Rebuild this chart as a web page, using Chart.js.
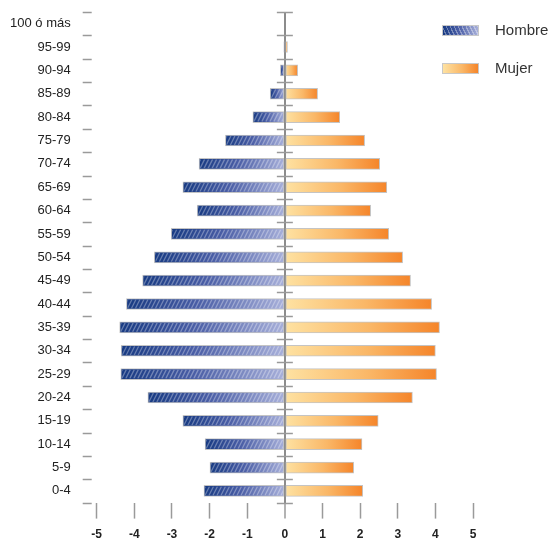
<!DOCTYPE html>
<html>
<head>
<meta charset="utf-8">
<script src="https://cdn.jsdelivr.net/npm/chart.js@4"></script>
<style>
  body { margin: 0; background: #fff; }
  #wrap { position: relative; width: 548px; height: 542px; }
  #legend { position: absolute; left: 442px; top: 20px; font: 15px 'Liberation Sans', Arial, sans-serif; color: #333; }
  #legend div { height: 38px; display: flex; align-items: flex-start; }
  #legend span.sw { display: inline-block; width: 37px; height: 11px; margin-top: 5px; border: 1px solid #c8c8c8; box-sizing: border-box; }
  #legend span.tx { margin-left: 16px; line-height: 20px; }
</style>
</head>
<body>
<div id="wrap">
  <canvas id="myChart" width="548" height="542"></canvas>
  <div id="legend"></div>
</div>
<script>
/* globals Chart:false */
(function displayChart() {
  'use strict'

  // Grupos de edad (de arriba a abajo) y porcentajes
  var edades = ['100 ó más', '95-99', '90-94', '85-89', '80-84', '75-79', '70-74',
    '65-69', '60-64', '55-59', '50-54', '45-49', '40-44', '35-39', '30-34',
    '25-29', '20-24', '15-19', '10-14', '5-9', '0-4']
  var hombre = [0, -0.02, -0.12, -0.39, -0.85, -1.58, -2.28, -2.71, -2.33, -3.02,
    -3.47, -3.78, -4.21, -4.39, -4.35, -4.36, -3.64, -2.71, -2.12, -1.99, -2.15]
  var mujer = [0, 0.07, 0.34, 0.87, 1.46, 2.12, 2.52, 2.71, 2.28, 2.76,
    3.13, 3.34, 3.90, 4.11, 4.00, 4.03, 3.39, 2.48, 2.05, 1.83, 2.07]
  var ejeX = [-5, -4, -3, -2, -1, 0, 1, 2, 3, 4, 5]

  var font = "'Liberation Sans', Arial, sans-serif"

  function barFill(dark, mid, light, fallback) {
    return function (c) {
      var chart = c.chart
      if (!chart.chartArea || c.raw === undefined) return fallback
      var sx = chart.scales.x
      var x0 = sx.getPixelForValue(0)
      var x1 = sx.getPixelForValue(c.raw)
      if (Math.abs(x1 - x0) < 1) return light
      var g = chart.ctx.createLinearGradient(x1, 0, x0, 0)
      g.addColorStop(0, dark)
      g.addColorStop(0.45, mid)
      g.addColorStop(1, light)
      return g
    }
  }

  // rayas diagonales de las barras de hombres + marcas del eje
  var decor = {
    id: 'decor',
    beforeDatasetsDraw: function (chart) {
      var ctx = chart.ctx
      var sy = chart.scales.y
      var x0 = chart.scales.x.getPixelForValue(0)
      var left = chart.chartArea.left
      ctx.save()
      ctx.strokeStyle = '#9a9a9a'
      ctx.lineWidth = 1.5
      for (var i = 0; i <= edades.length; i++) {
        var y = Math.round(sy.getPixelForValue(i - 0.5)) + 0.5
        ctx.beginPath()
        ctx.moveTo(left - 14, y); ctx.lineTo(left - 5, y)
        ctx.moveTo(x0 - 8, y); ctx.lineTo(x0 + 8, y)
        ctx.stroke()
      }
      ctx.restore()
    },
    afterDatasetsDraw: function (chart) {
      var ctx = chart.ctx
      var meta = chart.getDatasetMeta(0)
      ctx.save()
      meta.data.forEach(function (bar) {
        var p = bar.getProps(['x', 'y', 'base', 'height'], true)
        var l = Math.min(p.x, p.base) + 1
        var r = Math.max(p.x, p.base) - 1
        if (r - l < 1) return
        var t = p.y - p.height / 2 + 1
        var b = p.y + p.height / 2 - 1
        ctx.save()
        ctx.beginPath()
        ctx.rect(l, t, r - l, b - t)
        ctx.clip()
        ctx.strokeStyle = 'rgba(255,255,255,0.32)'
        ctx.lineWidth = 1.3
        ctx.beginPath()
        for (var s = l - 12; s < r + 12; s += 4) {
          ctx.moveTo(s, b)
          ctx.lineTo(s + (b - t) * 0.5, t)
        }
        ctx.stroke()
        ctx.restore()
      })
      ctx.restore()
    }
  }

  var ctx = document.getElementById('myChart')
  // eslint-disable-next-line no-unused-vars
  var myChart = new Chart(ctx, {
    type: 'bar',
    data: {
      labels: edades,
      datasets: [{
        label: 'Hombre',
        data: hombre,
        backgroundColor: barFill('#173a82', '#4a5ea6', '#a8b0da', '#5a6aa8'),
        borderColor: '#c4c4c4',
        borderWidth: 1,
        borderSkipped: false,
        barThickness: 11
      }, {
        label: 'Mujer',
        data: mujer,
        backgroundColor: barFill('#f5852a', '#fab767', '#fee2a2', '#f9b060'),
        borderColor: '#c4c4c4',
        borderWidth: 1,
        borderSkipped: false,
        barThickness: 11
      }]
    },
    options: {
      indexAxis: 'y',
      responsive: false,
      animation: false,
      layout: { padding: { left: 10, right: 75, top: 12, bottom: -9 } },
      plugins: {
        legend: { display: false },
        tooltip: { enabled: false }
      },
      scales: {
        x: {
          stacked: true,
          min: ejeX[0],
          max: ejeX[ejeX.length - 1],
          afterBuildTicks: function (axis) {
            axis.ticks = ejeX.map(function (v) { return { value: v } })
          },
          ticks: {
            font: { family: font, size: 12, weight: 'bold' },
            color: '#222',
            padding: 9,
            maxRotation: 0
          },
          grid: {
            drawOnChartArea: true,
            color: function (c) { return c.tick && c.tick.value === 0 ? '#8c8c8c' : 'rgba(0,0,0,0)' },
            lineWidth: function (c) { return c.tick && c.tick.value === 0 ? 2 : 1 },
            tickColor: '#9a9a9a',
            tickWidth: 1.5,
            tickLength: 16
          },
          border: { display: false }
        },
        y: {
          stacked: true,
          ticks: {
            font: { family: font, size: 13 },
            color: '#222',
            padding: 0
          },
          grid: { display: false, drawTicks: true, tickLength: 26 },
          border: { display: false }
        }
      }
    },
    plugins: [decor]
  })

  // leyenda
  var leg = document.getElementById('legend')
  var sw = [
    'repeating-linear-gradient(65deg, rgba(255,255,255,0) 0 2.4px, rgba(255,255,255,0.35) 2.4px 3.6px), linear-gradient(90deg, #173a82, #4a5ea6 45%, #a8b0da)',
    'linear-gradient(90deg, #fee2a2, #fab767 55%, #f5852a)'
  ]
  myChart.data.datasets.forEach(function (ds, i) {
    var row = document.createElement('div')
    row.innerHTML = '<span class="sw" style="background:' + sw[i] + '"></span><span class="tx">' + ds.label + '</span>'
    leg.appendChild(row)
  })
}())
</script>
</body>
</html>
